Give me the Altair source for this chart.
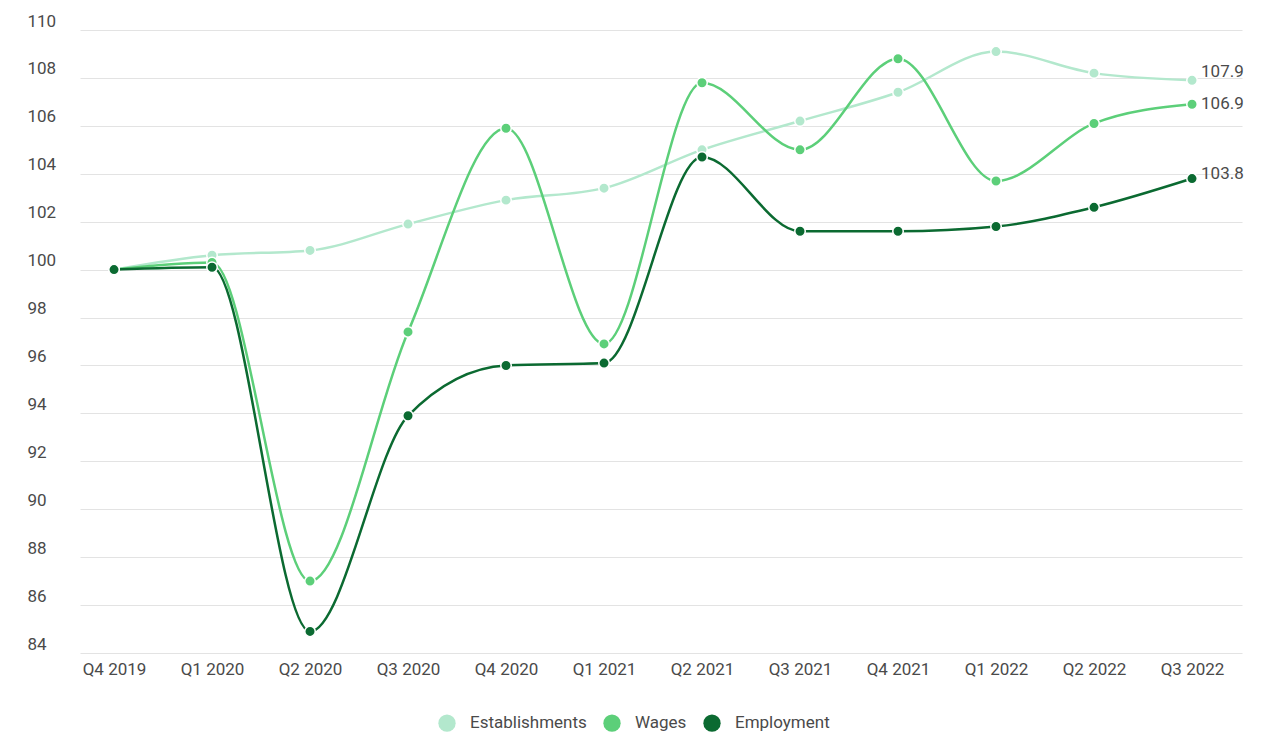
import altair as alt
import pandas as pd

quarters = ["Q4 2019", "Q1 2020", "Q2 2020", "Q3 2020", "Q4 2020", "Q1 2021",
            "Q2 2021", "Q3 2021", "Q4 2021", "Q1 2022", "Q2 2022", "Q3 2022"]
establishments = [100.0, 100.6, 100.8, 101.9, 102.9, 103.4, 105.0, 106.2, 107.4, 109.1, 108.2, 107.9]
wages = [100.0, 100.3, 87.0, 97.4, 105.9, 96.9, 107.8, 105.0, 108.8, 103.7, 106.1, 106.9]
employment = [100.0, 100.1, 84.9, 93.9, 96.0, 96.1, 104.7, 101.6, 101.6, 101.8, 102.6, 103.8]

series_names = ["Establishments", "Wages", "Employment"]
series_colors = ["#b3e8cd", "#5ccf79", "#0b6a31"]
label_dy = {"Establishments": -8, "Wages": 0, "Employment": -5}

rows = []
for name, vals in zip(series_names, [establishments, wages, employment]):
    for i, (q, v) in enumerate(zip(quarters, vals)):
        rows.append({"quarter": q, "value": v, "series": name,
                     "order": series_names.index(name), "last": i == len(quarters) - 1})
df = pd.DataFrame(rows)

FONT = "Roboto"
TEXT = "#4a4a4a"
FS = 17
FW = 400

x = alt.X("quarter:O", sort=quarters, title=None,
          scale=alt.Scale(type="point", padding=0.4286, align=0.405),
          axis=alt.Axis(labelAngle=0, ticks=False, domain=False, grid=False,
                        labelPadding=8, labelFontSize=FS, labelColor=TEXT,
                        labelFont=FONT, labelFontWeight=FW))
y = alt.Y("value:Q", title=None,
          scale=alt.Scale(domain=[84, 110], nice=False, zero=False),
          axis=alt.Axis(values=list(range(84, 111, 2)), ticks=False, tickSize=0,
                        domain=False, grid=True, gridColor="#e3e3e3", gridWidth=1.2,
                        labelAlign="left", labelBaseline="alphabetic", labelOffset=-4,
                        labelPadding=53, labelFontSize=FS, labelColor=TEXT,
                        labelFont=FONT, labelFontWeight=FW))
color = alt.Color("series:N", sort=series_names,
                  scale=alt.Scale(domain=series_names, range=series_colors),
                  legend=alt.Legend(title=None, orient="none", direction="horizontal",
                                    legendX=358, legendY=684,
                                    symbolType="circle", symbolSize=300,
                                    symbolStrokeWidth=0, symbolOpacity=1,
                                    labelFontSize=FS, labelFont=FONT, labelColor=TEXT,
                                    labelFontWeight=FW,
                                    labelOffset=14, columnPadding=16))

base = alt.Chart(df)
lines = base.mark_line(interpolate="monotone", strokeWidth=2.5).encode(
    x=x, y=y, color=color, detail="series:N", order="order:Q")
points = base.mark_point(filled=True, size=110, stroke="white", strokeWidth=1.5,
                         opacity=1, strokeOpacity=1).encode(
    x=x, y=y, fill=alt.Fill("series:N", scale=alt.Scale(domain=series_names, range=series_colors),
                            legend=None))
label_layers = []
for name in series_names:
    label_layers.append(
        base.transform_filter(f"datum.last && datum.series == '{name}'").mark_text(
            align="left", dx=9, dy=label_dy[name], fontSize=FS, font=FONT, color=TEXT,
            fontWeight=FW).encode(x=x, y=y, text=alt.Text("value:Q", format=".1f")))

chart = alt.layer(lines, points, *label_layers).properties(
    width=1162, height=623,
    background="white",
    autosize=alt.AutoSizeParams(type="none"),
    padding={"left": 80, "top": 30, "right": 39, "bottom": 81},
).configure_view(strokeOpacity=0, strokeWidth=0)

chart.save("out.html", embed_options={"renderer": "svg", "actions": False})
